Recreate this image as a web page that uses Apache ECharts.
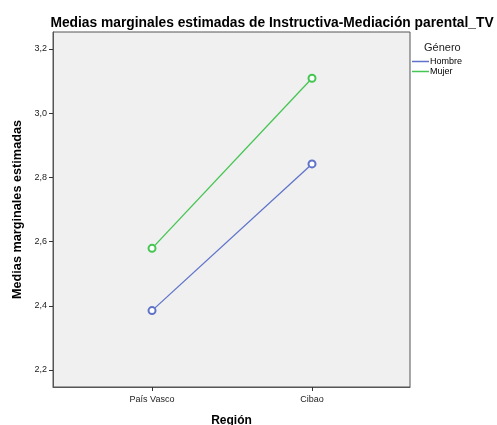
<!DOCTYPE html>
<html>
<head>
<meta charset="utf-8">
<script src="https://cdn.jsdelivr.net/npm/echarts@6/dist/echarts.min.js"></script>
<style>
  html, body { margin: 0; padding: 0; background: #ffffff; }
  #chart { width: 497px; height: 425px; }
</style>
</head>
<body>
<div id="chart"></div>
<script>
// Regions on the horizontal axis
const regiones = ['País Vasco', 'Cibao'];
// Estimated marginal means per gender
const hombre = [2.385, 2.842];
const mujer = [2.579, 3.109];
// Y tick values
const yTicks = [2.2, 2.4, 2.6, 2.8, 3.0, 3.2];

const FONT = '"Liberation Sans", Arial, sans-serif';
const fmtComma = v => v.toFixed(1).replace('.', ',');
const toPoints = arr => arr.map((v, i) => [i, v]);

const chart = echarts.init(document.getElementById('chart'), null, { renderer: 'canvas' });

chart.setOption({
  backgroundColor: '#ffffff',
  animation: false,
  title: [
    {
      text: 'Medias marginales estimadas de Instructiva-Mediación parental_TV',
      left: 267, top: 11, textAlign: 'center',
      textStyle: { fontFamily: FONT, fontSize: 13.8, fontWeight: 'bold', color: '#000' }
    },
    {
      text: 'Género',
      left: 419, top: 37,
      textStyle: { fontFamily: FONT, fontSize: 11, fontWeight: 'normal', color: '#222' }
    }
  ],
  legend: {
    orient: 'vertical',
    left: 412, top: 57,
    icon: 'rect',
    itemWidth: 17, itemHeight: 1.5,
    itemGap: 1,
    padding: 0,
    textStyle: { fontFamily: FONT, fontSize: 9, color: '#000', padding: [0, 0, 0, -4] },
    data: ['Hombre', 'Mujer']
  },
  grid: {
    left: 53, top: 32, width: 357, height: 355,
    outerBoundsMode: 'none',
    containLabel: false,
    show: true,
    backgroundColor: '#f0f0f0',
    borderColor: '#555555',
    borderWidth: 1
  },
  xAxis: {
    type: 'value',
    min: -0.619, max: 1.6125,
    name: 'Región',
    nameLocation: 'middle',
    nameGap: 28,
    nameTextStyle: { fontFamily: FONT, fontSize: 12, fontWeight: 'bold', color: '#000' },
    splitLine: { show: false },
    axisLine: { show: true, onZero: false, lineStyle: { color: '#555555' } },
    axisTick: { show: true, length: 4, lineStyle: { color: '#333' }, customValues: [0, 1] },
    axisLabel: {
      customValues: [0, 1],
      formatter: v => regiones[Math.round(v)] || '',
      fontFamily: FONT, fontSize: 9, color: '#222', margin: 8
    }
  },
  yAxis: {
    type: 'value',
    min: 2.147, max: 3.253,
    name: 'Medias marginales estimadas',
    nameLocation: 'middle',
    nameGap: 28,
    nameTextStyle: { fontFamily: FONT, fontSize: 12.7, fontWeight: 'bold', color: '#000' },
    splitLine: { show: false },
    axisLine: { show: true, onZero: false, lineStyle: { color: '#555555' } },
    axisTick: { show: true, length: 4, lineStyle: { color: '#333' }, customValues: yTicks },
    axisLabel: {
      customValues: yTicks,
      formatter: fmtComma,
      fontFamily: FONT, fontSize: 9, color: '#222', margin: 6
    }
  },
  series: [
    {
      name: 'Hombre', type: 'line',
      data: toPoints(hombre),
      symbol: 'emptyCircle', symbolSize: 7,
      lineStyle: { color: '#5f73c9', width: 1.3 },
      itemStyle: { color: '#5f73c9', borderWidth: 1 }
    },
    {
      name: 'Mujer', type: 'line',
      data: toPoints(mujer),
      symbol: 'emptyCircle', symbolSize: 7,
      lineStyle: { color: '#45c552', width: 1.3 },
      itemStyle: { color: '#45c552', borderWidth: 1 }
    }
  ]
});
</script>
</body>
</html>
